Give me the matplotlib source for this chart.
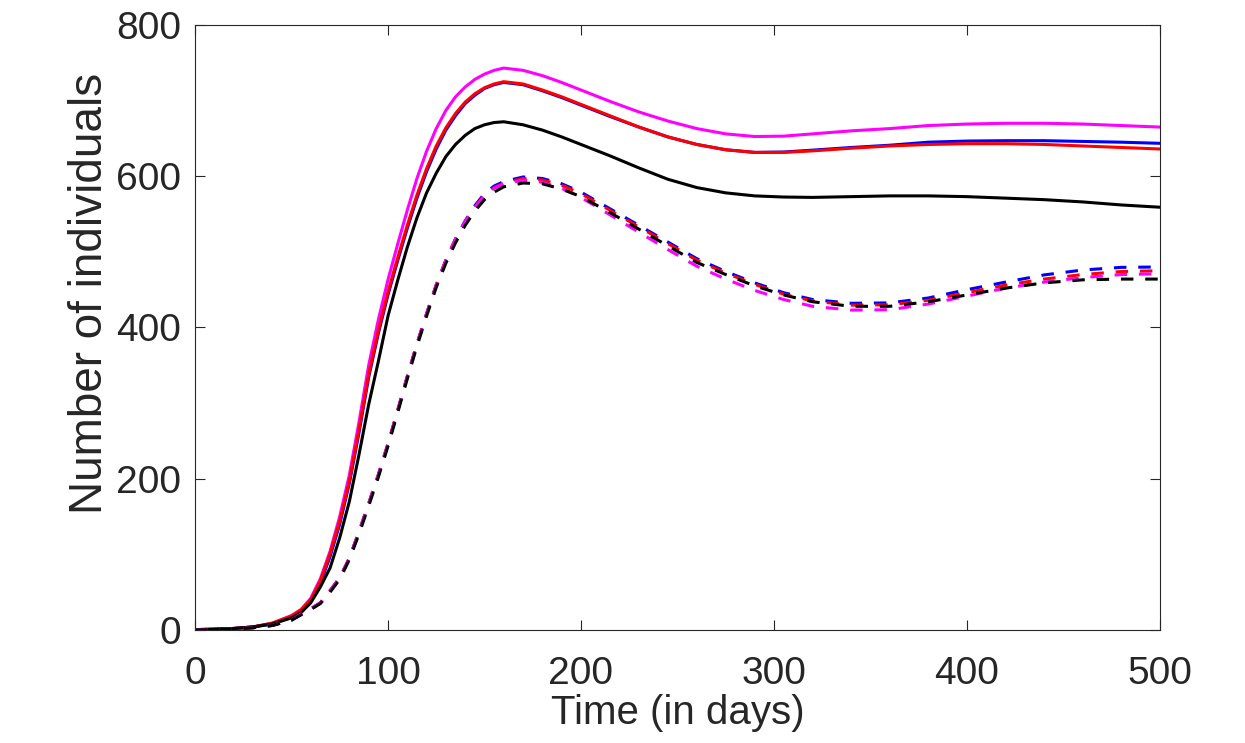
import matplotlib
matplotlib.use("Agg")
import matplotlib.pyplot as plt

# time grid (days)
days = [0, 10, 20, 30, 40, 50, 55, 60, 65, 70, 75, 80, 85, 90, 95, 100, 105, 110, 115, 120,
        125, 130, 135, 140, 145, 150, 155, 160, 170, 180, 190, 200, 215, 230, 245, 260, 275,
        290, 305, 320, 340, 360, 380, 400, 420, 440, 460, 480, 500]

# solid curves
solid_magenta = [0.5, 1, 2, 4, 9, 19, 27, 42, 68, 104, 150, 205, 275, 350, 410, 463, 510, 555, 597, 633,
                 663, 687, 705, 718, 728, 735, 740, 743, 740, 733, 724, 714, 699, 685, 673, 663, 656,
                 652.5, 653, 656, 660, 663, 667, 669, 670, 670, 669, 667, 665]
solid_blue = [0.5, 1, 2, 4, 8, 17, 25, 38, 62, 97, 140, 194, 261, 334, 392, 443, 488, 531, 571, 606,
              636, 661, 680, 696, 707, 716, 721, 724, 721, 713, 704, 694, 679, 665, 652, 642, 635,
              631.5, 632, 634.5, 638, 641, 645, 646.5, 647, 647, 646, 645, 643.5]
solid_red = [0.5, 1, 2, 4, 9, 18.5, 27, 40, 65, 101, 144, 197, 265, 338, 396, 447, 492, 535, 575, 610,
             640, 664, 683, 698, 709, 717, 722, 725, 722, 714, 705, 695, 680, 665, 652, 642, 635,
             631.5, 631.5, 633.5, 637, 640, 642, 643, 643, 642, 640, 638, 636]
solid_black = [0.5, 1, 2, 4, 8, 16, 23, 36, 57, 82, 122, 170, 232, 298, 355, 415, 462, 506, 545, 578,
               604, 626, 642, 654, 663, 668, 671, 672, 668, 661, 652, 642, 627, 611, 596, 585, 578,
               574, 572.5, 572, 573, 574, 574, 573, 571, 569, 566, 562, 559]

# dashed curves
dashed_blue = [0, 0.5, 1, 3, 6, 13, 21, 28, 36, 52, 69, 95, 130, 167, 205, 246, 290, 335, 378, 418,
               456, 489, 517, 541, 561, 577, 587, 593, 599, 597, 590, 579, 557, 535, 513, 491, 474,
               459, 446, 437, 432, 432.5, 439, 450, 460, 469.5, 476, 479.5, 480]
dashed_red = [0, 0.5, 1, 3, 6, 13, 21, 28, 36, 52, 69, 95, 130, 167, 205, 246, 290, 335, 378, 418,
              456, 489, 517, 540, 559, 575, 585, 591, 597, 595, 588, 577, 555, 533, 511, 489, 472,
              457, 444, 435, 429.5, 430, 436, 446, 456, 464, 470, 474, 475]
dashed_magenta = [0, 0.5, 1, 3, 6, 13, 21, 28, 36, 52, 69, 95, 130, 167, 205, 246, 290, 335, 378, 418,
                  456, 489, 517, 540, 559, 574, 584, 590, 595, 592, 584, 572, 549, 526, 503, 481, 464,
                  449, 437, 428, 423, 423.5, 431, 441.5, 452, 460, 466, 470, 471]
dashed_black = [0, 0.5, 1, 3, 6, 13, 20, 27, 35, 50, 67, 93, 127, 164, 202, 243, 287, 332, 375, 415,
                453, 485, 512, 535, 554, 569, 579, 586, 591, 590, 583, 573, 552, 530, 508, 486, 470,
                455, 443, 434, 428, 428, 434, 443, 452, 459, 463, 464, 464]

plt.rcParams['font.family'] = ['Liberation Sans', 'DejaVu Sans']
plt.rcParams['lines.scale_dashes'] = False

fig = plt.figure(figsize=(12.45, 7.43), dpi=100)
ax = fig.add_axes([0.1566, 0.1521, 0.7751, 0.8143])

lw = 2.2
dash = (0, (9, 8.5))
ax.plot(days, solid_magenta, color='#ff00ff', lw=lw)
ax.plot(days, solid_blue, color='#0000ff', lw=lw)
ax.plot(days, solid_red, color='#ff0000', lw=lw)
ax.plot(days, solid_black, color='#000000', lw=lw)
ax.plot(days, dashed_blue, color='#0000ff', lw=lw, linestyle=dash)
ax.plot(days, dashed_red, color='#ff0000', lw=lw, linestyle=dash)
ax.plot(days, dashed_magenta, color='#ff00ff', lw=lw, linestyle=dash)
ax.plot(days, dashed_black, color='#000000', lw=lw, linestyle=dash)

ax.set_xlim(0, 500)
ax.set_ylim(0, 800)
ax.set_xticks([0, 100, 200, 300, 400, 500])
ax.set_yticks([0, 200, 400, 600, 800])
ax.tick_params(direction='in', length=7, width=0.8, colors='#262626', labelsize=28,
               top=True, right=True)
ax.tick_params(axis='x', pad=18.5)
ax.tick_params(axis='y', pad=9.8)
for s in ax.spines.values():
    s.set_color('#262626')
    s.set_linewidth(0.8)

ax.set_xlabel("Time (in days)", fontsize=29, color='#262626', va='baseline')
ax.set_ylabel("Number of individuals", fontsize=33, color='#262626', va='baseline')
ax.xaxis.set_label_coords(0.5, -(724 - 630) / 605)
ax.yaxis.set_label_coords((102 - 195) / 965, (630 - 293.5) / 605)

fig.savefig("out.png", dpi=100)
